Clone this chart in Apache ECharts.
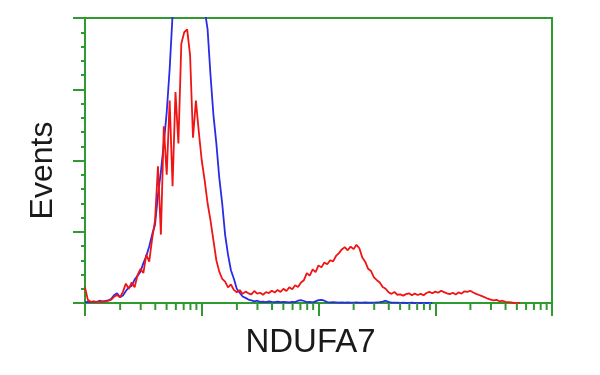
<!DOCTYPE html>
<html>
<head>
<meta charset="utf-8">
<script src="https://cdn.jsdelivr.net/npm/echarts@6/dist/echarts.min.js"></script>
<style>
html,body{margin:0;padding:0;background:#fff;}
#chart{width:600px;height:375px;}
</style>
</head>
<body>
<div id="chart"></div>
<script>
// Histogram bins: 160 bins across 4 log decades (40 bins per decade)
const binsPerDecade = 40;
const decades = [0, 1, 2, 3, 4];
const minorMultipliers = [2, 3, 4, 5, 6, 7, 8, 9];

// Control (blue) histogram counts, percent of y full scale (values > 100 are clipped at top)
const controlCounts = [
  0.3, 0.4, 0.3, 0.5, 0.4, 0.8, 0.6, 0.7, 0.9, 1.5,
  2.8, 3.4, 2.0, 2.6, 4.2, 5.5, 6.0, 8.2, 9.5, 11.0,
  14.0, 16.5, 19.8, 24.0, 27.5, 38, 46, 56, 67, 82,
  101, 118, 132, 142, 150, 153, 150, 143, 130, 118,
  110, 103, 96, 80, 66, 56, 44, 35, 24, 17,
  11.5, 8.5, 5.0, 3.6, 2.3, 1.8, 1.2, 0.9, 0.6, 0.8,
  0.4, 0.5, 0.3, 0.6, 0.4, 0.3, 0.5, 0.3, 0.4, 0.3,
  0.2, 0.4, 0.3, 0.8, 1.0, 0.7, 0.3, 0.4, 0.2, 0.6,
  1.0, 1.1, 0.8, 0.3, 0.2, 0.3, 0.2, 0.1, 0.2, 0.1,
  0.2, 0.1, 0.1, 0.2, 0.1, 0.1, 0.2, 0.1, 0.1, 0.1,
  0.2, 0.3, 0.5, 0.8, 0.4, 0.1, 0.1, 0.1, 0, 0.1,
  0, 0, 0.1, 0, 0, 0, 0, 0, 0, 0
];

// NDUFA7 (red) histogram counts
const ndufa7Counts = [
  5.5, 1.0, 0.4, 0.6, 0.3, 0.5, 0.4, 0.6, 0.8, 1.2,
  2.2, 2.8, 2.0, 4.0, 6.8, 5.0, 7.2, 5.5, 9.8, 12.0,
  10.5, 17.0, 14.5, 22.5, 29.0, 48, 24, 62, 45, 71,
  41, 74, 56, 91, 95, 96, 87, 58, 71, 60,
  50, 43, 35, 29, 22, 15, 11, 8.5, 7.5, 5.5,
  6.5, 4.6, 3.8, 4.5, 3.2, 4.0, 3.4, 3.0, 4.2, 3.3,
  3.6, 2.9, 3.8, 3.5, 4.3, 3.7, 4.6, 3.9, 5.0, 4.2,
  5.5, 4.8, 6.2, 5.6, 7.2, 8.0, 10.5, 9.6, 11.8, 10.8,
  13.2, 12.5, 14.2, 13.6, 15.0, 14.6, 16.5, 17.5, 18.8, 19.6,
  18.5, 19.8, 18.9, 20.4, 19.2, 16.0, 14.5, 12.0, 11.2, 9.0,
  8.0, 7.2, 5.6, 5.0, 3.8, 3.2, 3.9, 2.9, 3.0, 2.6,
  3.1, 3.4, 2.7, 3.3, 2.8, 3.2, 2.7, 3.5, 3.9, 3.4,
  4.0, 3.6, 4.3, 3.8, 3.4, 3.1, 3.6, 3.0, 3.7, 3.3,
  4.1, 3.9, 4.3, 3.7, 3.2, 2.8, 2.4, 2.0, 1.5, 1.2,
  0.9, 1.1, 0.6, 0.8, 0.4, 0.3, 0.2, 0, 0, 0
];

const xTitle = 'NDUFA7';
const yTitle = 'Events';

const green = '#2f9a2f';
const toPairs = arr => arr.map((v, i) => [i, v]);
const minorTickChannels = [];
decades.slice(0, -1).forEach(d => minorMultipliers.forEach(m => {
  minorTickChannels.push((d + Math.log10(m)) * binsPerDecade);
}));

const chart = echarts.init(document.getElementById('chart'));
chart.setOption({
  animation: false,
  backgroundColor: '#ffffff',
  grid: {
    left: 85, right: 48, top: 18, bottom: 72,
    show: true, borderColor: green, borderWidth: 2,
    backgroundColor: 'transparent',
    outerBoundsMode: 'none'
  },
  xAxis: {
    type: 'value',
    min: 0,
    max: (decades.length - 1) * binsPerDecade,
    interval: binsPerDecade,
    name: xTitle,
    nameLocation: 'middle',
    nameGap: 23,
    nameTextStyle: { fontFamily: 'Liberation Sans, Arial, sans-serif', fontSize: 33, color: '#1a1a1a', padding: [0, 16, 0, 0] },
    axisLine: { show: true, lineStyle: { color: green, width: 2 } },
    axisTick: { show: true, inside: false, length: 13, lineStyle: { color: green, width: 2 } },
    axisLabel: { show: false },
    splitLine: { show: false }
  },
  yAxis: {
    type: 'value',
    min: 0, max: 100, interval: 25,
    name: yTitle,
    nameLocation: 'middle',
    nameRotate: 90,
    nameGap: 26,
    nameTextStyle: { fontFamily: 'Liberation Sans, Arial, sans-serif', fontSize: 32, color: '#1a1a1a', padding: [0, 20, 0, 0] },
    axisLine: { show: true, lineStyle: { color: green, width: 2 } },
    axisTick: { show: true, inside: false, length: 12, lineStyle: { color: green, width: 2 } },
    minorTick: { show: true, splitNumber: 5, length: 4, lineStyle: { color: green, width: 2 } },
    axisLabel: { show: false },
    splitLine: { show: false }
  },
  series: [
    {
      name: 'Control',
      type: 'line',
      data: toPairs(controlCounts),
      showSymbol: false,
      symbol: 'none',
      lineStyle: { color: '#2b2be6', width: 1.8 },
      clip: true,
      z: 2
    },
    {
      name: 'NDUFA7',
      type: 'line',
      data: toPairs(ndufa7Counts),
      showSymbol: false,
      symbol: 'none',
      lineStyle: { color: '#f01414', width: 1.8 },
      clip: true,
      z: 3
    },
    {
      name: 'minorTicks',
      type: 'custom',
      clip: false,
      silent: true,
      data: minorTickChannels.map(v => [v, 0]),
      renderItem: function (params, api) {
        const p = api.coord([api.value(0), 0]);
        return {
          type: 'line',
          shape: { x1: p[0], y1: p[1], x2: p[0], y2: p[1] + 7 },
          style: { stroke: green, lineWidth: 2 }
        };
      },
      z: 4
    }
  ]
});
</script>
</body>
</html>
